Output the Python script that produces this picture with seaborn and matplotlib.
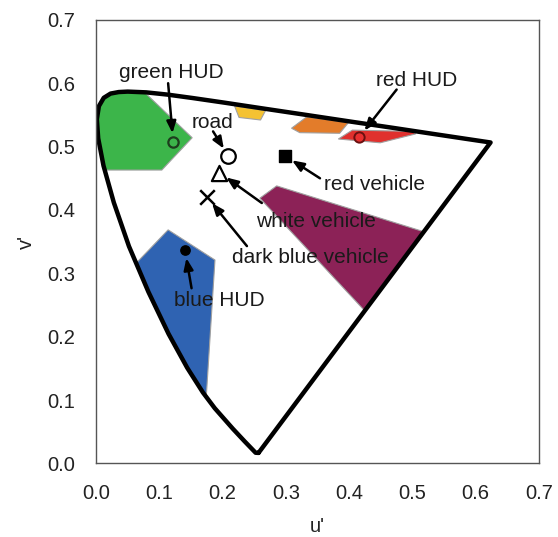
import matplotlib
matplotlib.use("Agg")
import matplotlib.pyplot as plt
import seaborn as sns
import pandas as pd

# CIE 1976 u'v' spectral locus (380 nm ... 700 nm), closed by the purple line
locus_u = [0.2568, 0.2522, 0.2347, 0.2161, 0.1877, 0.1690, 0.1441, 0.1147, 0.0828,
           0.0521, 0.0282, 0.0119, 0.0035, 0.0014, 0.0046, 0.0123, 0.0231, 0.0360,
           0.0501, 0.0792, 0.1127, 0.1531, 0.2026, 0.2623, 0.3315, 0.4035, 0.4692,
           0.5203, 0.5830, 0.6234, 0.2568]
locus_v = [0.0166, 0.0169, 0.0350, 0.0549, 0.0871, 0.1119, 0.1510, 0.2044, 0.2708,
           0.3427, 0.4117, 0.4698, 0.5131, 0.5432, 0.5638, 0.5770, 0.5837, 0.5861,
           0.5868, 0.5856, 0.5821, 0.5766, 0.5694, 0.5604, 0.5501, 0.5393, 0.5296,
           0.5219, 0.5125, 0.5065, 0.0166]

# Colour gamut regions
green_u = [0.014, 0.104, 0.152, 0.0774, 0.0501, 0.0360, 0.0231, 0.0123, 0.0046, 0.0014, 0.0035, 0.0119]
green_v = [0.463, 0.463, 0.514, 0.585, 0.5868, 0.5861, 0.5837, 0.5770, 0.5638, 0.5432, 0.5131, 0.4698]
yellow_u = [0.219, 0.268, 0.260, 0.226]
yellow_v = [0.564, 0.557, 0.542, 0.546]
orange_u = [0.309, 0.333, 0.399, 0.385, 0.322]
orange_v = [0.529, 0.547, 0.538, 0.521, 0.522]
red_u = [0.383, 0.405, 0.500, 0.505, 0.449]
red_v = [0.512, 0.526, 0.524, 0.520, 0.506]
purple_u = [0.2855, 0.517, 0.4234, 0.259]
purple_v = [0.438, 0.366, 0.2422, 0.4186]
blue_u = [0.114, 0.188, 0.1745, 0.169, 0.1441, 0.1147, 0.0828, 0.0635]
blue_v = [0.3686, 0.321, 0.109, 0.1119, 0.1510, 0.2044, 0.2708, 0.316]

# Measured chromaticities
point_names = ["green HUD", "road", "white vehicle", "dark blue vehicle",
               "red vehicle", "red HUD", "blue HUD"]
point_u = [0.122, 0.209, 0.195, 0.175, 0.2986, 0.416, 0.1406]
point_v = [0.508, 0.4855, 0.459, 0.421, 0.4855, 0.515, 0.337]

# Label placement (text baseline centre) and arrow tails
label_u = [0.1196, 0.1848, 0.3468, 0.339, 0.4395, 0.5066, 0.1945]
label_v = [0.6082, 0.529, 0.3738, 0.316, 0.4318, 0.595, 0.2485]
tail_u = [0.114, 0.185, 0.262, 0.2385, 0.3539, 0.475, 0.151]
tail_v = [0.600, 0.524, 0.411, 0.343, 0.450, 0.590, 0.2765]

ticks = [0.0, 0.1, 0.2, 0.3, 0.4, 0.5, 0.6, 0.7]

sns.set_style("white")
plt.rcParams["font.family"] = ["Liberation Sans", "DejaVu Sans"]

fig = plt.figure(figsize=(5.58, 5.37), dpi=100)
ax = fig.add_axes([0.172, 0.137, 0.794, 0.826])

regions = [
    (green_u, green_v, "#3cb54a"),
    (yellow_u, yellow_v, "#f4c232"),
    (orange_u, orange_v, "#e37c2a"),
    (red_u, red_v, "#e0312e"),
    (purple_u, purple_v, "#8c2257"),
    (blue_u, blue_v, "#2f63b2"),
]
for ru, rv, col in regions:
    ax.fill(ru, rv, facecolor=col, edgecolor="#a0a0a0", linewidth=0.8, zorder=1)

sns.lineplot(x=locus_u, y=locus_v, sort=False, estimator=None, color="black",
             linewidth=3.2, ax=ax, zorder=2)

marker_style = {
    "green HUD": dict(marker="o", s=55, color="#3cb54a", edgecolor="#1d3d1d", linewidth=1.6),
    "road": dict(marker="o", s=110, color="white", edgecolor="black", linewidth=1.6),
    "white vehicle": dict(marker="^", s=120, color="white", edgecolor="black", linewidth=1.6),
    "dark blue vehicle": dict(marker="x", s=110, color="black", linewidth=1.8),
    "red vehicle": dict(marker="s", s=80, color="black", edgecolor="black", linewidth=1.0),
    "red HUD": dict(marker="o", s=55, color="#e83030", edgecolor="#6a1010", linewidth=1.4),
    "blue HUD": dict(marker="o", s=45, color="black", edgecolor="black", linewidth=1.0),
}
points = pd.DataFrame({"name": point_names, "u": point_u, "v": point_v})
for _, row in points.iterrows():
    sns.scatterplot(x=[row["u"]], y=[row["v"]], ax=ax, zorder=4, legend=False,
                    **marker_style[row["name"]])

for i, name in enumerate(point_names):
    ax.text(label_u[i], label_v[i], name, ha="center", va="baseline",
            fontsize=15, color="#1a1a1a", zorder=5)
    ax.annotate("", xy=(point_u[i], point_v[i]), xytext=(tail_u[i], tail_v[i]),
                arrowprops=dict(arrowstyle="-|>,head_length=0.7,head_width=0.28",
                                color="black", lw=1.8, shrinkA=0, shrinkB=6),
                zorder=5)

ax.set_xlim(0, 0.7)
ax.set_ylim(0, 0.7)
ax.set_xticks(ticks)
ax.set_yticks(ticks)
ax.set_xticklabels([f"{t:.1f}" for t in ticks])
ax.set_yticklabels([f"{t:.1f}" for t in ticks])
ax.tick_params(direction="in", length=5, width=1, color="#666666",
               labelsize=14.5, labelcolor="#222222", pad=15)
for sp in ax.spines.values():
    sp.set_color("#555555")
    sp.set_linewidth(1.0)
ax.set_xlabel("u'", fontsize=14.5, color="#222222", labelpad=10)
ax.set_ylabel("v'", fontsize=14.5, color="#222222", labelpad=8)

fig.savefig("out.png", dpi=100)
